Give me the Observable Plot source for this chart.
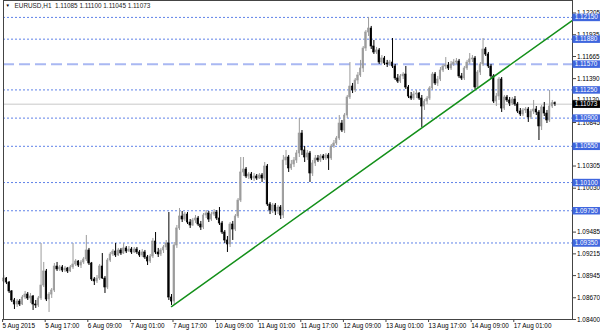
<!DOCTYPE html>
<html><head><meta charset="utf-8">
<script src="https://cdn.jsdelivr.net/npm/d3@7"></script>
<script src="https://cdn.jsdelivr.net/npm/@observablehq/plot@0.6"></script>
<style>
html,body{margin:0;padding:0;background:#fff;}
#chart svg{display:block;}
</style></head><body><div id="chart"></div>
<script>
// EURUSD H1 bars, bar 0 = 5 Aug 2015 01:00
const opens = [
1.08872,1.08909,1.08859,1.08748,1.08636,1.08586,1.08623,1.08586,1.08673,1.08710,
1.08661,1.08686,1.08586,1.08574,1.08661,1.08822,1.08996,1.08648,1.08710,1.08760,
1.09058,1.09021,1.09046,1.09008,1.09033,1.08996,1.09046,1.09083,1.09120,1.09070,
1.09108,1.09145,1.09257,1.09095,1.08897,1.08872,1.08909,1.09058,1.08909,1.08797,
1.09132,1.09207,1.09244,1.09195,1.09257,1.09219,1.09282,1.09244,1.09269,1.09232,
1.09269,1.09232,1.09195,1.09232,1.09170,1.09120,1.09182,1.09368,1.09232,1.09207,
1.09257,1.09294,1.09344,1.08673,1.08623,1.09319,1.09530,1.09679,1.09641,1.09703,
1.09604,1.09567,1.09629,1.09654,1.09579,1.09542,1.09691,1.09716,1.09641,1.09703,
1.09728,1.09654,1.09592,1.09480,1.09381,1.09331,1.09579,1.09517,1.09679,1.09877,
1.10225,1.10262,1.10175,1.10200,1.10150,1.10175,1.10150,1.10188,1.10150,1.10299,
1.09828,1.09753,1.09815,1.09741,1.09790,1.09691,1.10374,1.10411,1.10275,1.10324,
1.10374,1.10461,1.10709,1.10498,1.10411,1.10461,1.10212,1.10337,1.10399,1.10374,
1.10424,1.10399,1.10436,1.10399,1.10548,1.10585,1.10647,1.10833,1.10746,1.10932,
1.11156,1.11292,1.11243,1.11367,1.11429,1.11516,1.11764,1.11963,1.12012,1.11789,
1.11715,1.11740,1.11590,1.11640,1.11578,1.11566,1.11590,1.11541,1.11392,1.11354,
1.11417,1.11441,1.11280,1.11168,1.11143,1.11193,1.11205,1.11143,1.11044,1.11106,
1.11143,1.11268,1.11441,1.11330,1.11379,1.11491,1.11541,1.11553,1.11516,1.11566,
1.11590,1.11603,1.11417,1.11392,1.11516,1.11590,1.11628,1.11640,1.11280,1.11466,
1.11566,1.11752,1.11690,1.11541,1.11417,1.11106,1.11168,1.11379,1.11019,1.11156,
1.11119,1.11081,1.11131,1.11069,1.10982,1.10945,1.10995,1.11007,1.10908,1.10982,
1.11007,1.10970,1.10796,1.11032,1.10957,1.10870,1.11044,1.11085];
const highs = [
1.08946,1.08921,1.08872,1.08760,1.08661,1.08648,1.08648,1.08698,1.08748,1.08735,
1.08723,1.08698,1.08636,1.08686,1.09344,1.09108,1.09021,1.08735,1.08785,1.09095,
1.09108,1.09070,1.09070,1.09058,1.09046,1.09070,1.09344,1.09145,1.09132,1.09132,
1.09170,1.09443,1.09282,1.09108,1.08921,1.08946,1.09083,1.09219,1.08934,1.09157,
1.09232,1.09269,1.09344,1.09282,1.09282,1.09344,1.09306,1.09306,1.09294,1.09294,
1.09294,1.09257,1.09269,1.09257,1.09195,1.09207,1.09406,1.09480,1.09282,1.09282,
1.09319,1.09381,1.09728,1.08710,1.09356,1.09567,1.09778,1.09741,1.09728,1.09728,
1.09641,1.09654,1.09691,1.09679,1.09617,1.09716,1.09753,1.09741,1.09728,1.09765,
1.09753,1.09790,1.09617,1.09505,1.09430,1.09604,1.09617,1.09703,1.09902,1.10411,
1.10411,1.10287,1.10225,1.10225,1.10212,1.10200,1.10212,1.10212,1.10349,1.10324,
1.09852,1.09840,1.09840,1.09815,1.09815,1.10436,1.10498,1.10436,1.10374,1.10411,
1.10498,1.10895,1.10746,1.10548,1.10498,1.10486,1.10374,1.10436,1.10436,1.10448,
1.10448,1.10461,1.10461,1.10572,1.10622,1.10672,1.10932,1.10870,1.10957,1.11181,
1.11590,1.11330,1.11392,1.11466,1.11616,1.11789,1.11988,1.12149,1.12038,1.11864,
1.11777,1.11764,1.11677,1.11665,1.11616,1.11616,1.11888,1.11566,1.11441,1.11441,
1.11466,1.11541,1.11305,1.11218,1.11230,1.11243,1.11218,1.11181,1.11131,1.11168,
1.11292,1.11466,1.11466,1.11417,1.11528,1.11566,1.11652,1.11590,1.11603,1.11628,
1.11640,1.11628,1.11454,1.11541,1.11616,1.11702,1.11677,1.11665,1.11491,1.11590,
1.11888,1.11777,1.11715,1.11566,1.11441,1.11205,1.11404,1.11404,1.11181,1.11181,
1.11156,1.11156,1.11168,1.11094,1.11019,1.11019,1.11032,1.11032,1.11007,1.11119,
1.11044,1.10995,1.11057,1.11094,1.10995,1.11243,1.11119,1.11100];
const lows = [
1.08847,1.08834,1.08723,1.08611,1.08524,1.08549,1.08561,1.08574,1.08648,1.08636,
1.08599,1.08512,1.08537,1.08549,1.08636,1.08797,1.08623,1.08487,1.08661,1.08735,
1.08996,1.08996,1.08983,1.08983,1.08971,1.08983,1.09021,1.09058,1.09046,1.09033,
1.09083,1.09120,1.09070,1.08872,1.08822,1.08847,1.08884,1.08897,1.08723,1.08772,
1.09108,1.09182,1.09170,1.09182,1.09195,1.09207,1.09219,1.09232,1.09207,1.09219,
1.09207,1.09170,1.09170,1.09145,1.09070,1.09095,1.09157,1.09207,1.09170,1.09182,
1.09219,1.09257,1.08636,1.08574,1.08586,1.09282,1.09505,1.09604,1.09617,1.09579,
1.09530,1.09555,1.09592,1.09555,1.09505,1.09517,1.09654,1.09604,1.09617,1.09679,
1.09629,1.09567,1.09455,1.09344,1.09232,1.09294,1.09381,1.09492,1.09654,1.09852,
1.10175,1.10150,1.10138,1.10126,1.10113,1.10126,1.10138,1.10101,1.10126,1.09803,
1.09703,1.09716,1.09691,1.09703,1.09641,1.09654,1.10312,1.10225,1.10250,1.10287,
1.10337,1.10411,1.10436,1.10349,1.10374,1.10101,1.10175,1.10299,1.10349,1.10349,
1.10374,1.10374,1.10250,1.10374,1.10523,1.10560,1.10622,1.10721,1.10709,1.10895,
1.11131,1.11205,1.11218,1.11317,1.11404,1.11466,1.11727,1.11913,1.11752,1.11690,
1.11690,1.11566,1.11566,1.11553,1.11528,1.11541,1.11516,1.11367,1.11330,1.11330,
1.11379,1.11255,1.11143,1.11119,1.11119,1.11143,1.11119,1.10784,1.10995,1.11069,
1.11119,1.11243,1.11305,1.11292,1.11354,1.11466,1.11503,1.11491,1.11491,1.11541,
1.11566,1.11392,1.11367,1.11367,1.11491,1.11566,1.11590,1.11255,1.11255,1.11429,
1.11541,1.11665,1.11516,1.11392,1.11081,1.11044,1.11119,1.10970,1.10995,1.11094,
1.11044,1.11057,1.11044,1.10957,1.10920,1.10920,1.10957,1.10846,1.10883,1.10945,
1.10932,1.10622,1.10746,1.10920,1.10833,1.10846,1.11019,1.11045];
const closes = [
1.08909,1.08859,1.08748,1.08636,1.08586,1.08623,1.08586,1.08673,1.08710,1.08661,
1.08686,1.08586,1.08574,1.08661,1.08822,1.08996,1.08648,1.08710,1.08760,1.09058,
1.09021,1.09046,1.09008,1.09033,1.08996,1.09046,1.09083,1.09120,1.09070,1.09108,
1.09145,1.09257,1.09095,1.08897,1.08872,1.08909,1.09058,1.08909,1.08797,1.09132,
1.09207,1.09244,1.09195,1.09257,1.09219,1.09282,1.09244,1.09269,1.09232,1.09269,
1.09232,1.09195,1.09232,1.09170,1.09120,1.09182,1.09368,1.09232,1.09207,1.09257,
1.09294,1.09344,1.08673,1.08623,1.09319,1.09530,1.09679,1.09641,1.09703,1.09604,
1.09567,1.09629,1.09654,1.09579,1.09542,1.09691,1.09716,1.09641,1.09703,1.09728,
1.09654,1.09592,1.09480,1.09381,1.09331,1.09579,1.09517,1.09679,1.09877,1.10225,
1.10262,1.10175,1.10200,1.10150,1.10175,1.10150,1.10188,1.10150,1.10299,1.09828,
1.09753,1.09815,1.09741,1.09790,1.09691,1.10374,1.10411,1.10275,1.10324,1.10374,
1.10461,1.10709,1.10498,1.10411,1.10461,1.10212,1.10337,1.10399,1.10374,1.10424,
1.10399,1.10436,1.10399,1.10548,1.10585,1.10647,1.10833,1.10746,1.10932,1.11156,
1.11292,1.11243,1.11367,1.11429,1.11516,1.11764,1.11963,1.12012,1.11789,1.11715,
1.11740,1.11590,1.11640,1.11578,1.11566,1.11590,1.11541,1.11392,1.11354,1.11417,
1.11441,1.11280,1.11168,1.11143,1.11193,1.11205,1.11143,1.11044,1.11106,1.11143,
1.11268,1.11441,1.11330,1.11379,1.11491,1.11541,1.11553,1.11516,1.11566,1.11590,
1.11603,1.11417,1.11392,1.11516,1.11590,1.11628,1.11640,1.11280,1.11466,1.11566,
1.11752,1.11690,1.11541,1.11417,1.11106,1.11168,1.11379,1.11019,1.11156,1.11119,
1.11081,1.11131,1.11069,1.10982,1.10945,1.10995,1.11007,1.10908,1.10982,1.11007,
1.10970,1.10796,1.11032,1.10957,1.10870,1.11044,1.11085,1.11073];

const timeTickBars = [0,16,32,48,64,80,96,112,128,144,160,176,192];
const timeTickLabels = ["5 Aug 2015","5 Aug 17:00","6 Aug 09:00","7 Aug 01:00","7 Aug 17:00","10 Aug 09:00","11 Aug 01:00","11 Aug 17:00","12 Aug 09:00","13 Aug 01:00","13 Aug 17:00","14 Aug 09:00","17 Aug 01:00"];
const priceTicks = [1.12205,1.11935,1.11665,1.11390,1.11120,1.10845,1.10575,1.10305,1.10030,1.09760,1.09485,1.09215,1.08945,1.08670,1.08400];
// tick labels fully covered by a level box in the reference
const coveredTicks = [1.10575, 1.09760];
const dottedLevels = [1.12150,1.11880,1.11250,1.10900,1.10550,1.10100,1.09750,1.09350];
const dashedLevels = [1.11570];
const lastPrice = [1.11073];
const trendBars = [63, 207];
const trendPrices = [1.08561, 1.11957];
const titleText = "EURUSD,H1  1.11085 1.11100 1.11045 1.11073";

const xDomain = [-0.113, 213.6];
const yDomain = [1.0840, 1.1236];

const bars = opens.map((o, i) => ({i, open: o, high: highs[i], low: lows[i], close: closes[i], up: closes[i] > o}));
const slope = (trendPrices[1] - trendPrices[0]) / (trendBars[1] - trendBars[0]);
const trend = [
  {x: trendBars[0], y: trendPrices[0]},
  {x: xDomain[1], y: trendPrices[0] + slope * (xDomain[1] - trendBars[0])}
];
const boxLevels = dottedLevels.concat(dashedLevels);
const fmt = d3.format(".5f");
const UP = "#9c9c9c", DOWN = "#000000", BLUE = "#3f66de";
const bx1 = xDomain[1] + 0.15, bx2 = xDomain[1] + 10.5;

const chart = Plot.plot({
  width: 600, height: 333,
  marginLeft: 3, marginRight: 28, marginTop: 0, marginBottom: 14,
  style: {fontFamily: "Liberation Sans, Arial, sans-serif", fontSize: "6.4px", background: "#fff", color: "#000"},
  x: {domain: xDomain, axis: null},
  y: {domain: yDomain, axis: null},
  marks: [
    Plot.ruleY(dottedLevels, {stroke: "#5f82e8", strokeDasharray: "2,2", strokeWidth: 1}),
    Plot.ruleY(dashedLevels, {stroke: "#a9b8f2", strokeDasharray: "11,5", strokeWidth: 2}),
    Plot.ruleY(lastPrice, {stroke: "#c8c8c8", strokeWidth: 1}),
    Plot.ruleX(bars, {x: "i", y1: "low", y2: "high", stroke: d => d.up ? UP : DOWN, strokeWidth: 1}),
    Plot.rect(bars, {x1: d => d.i - 0.27, x2: d => d.i + 0.27, y1: "open", y2: "close",
      fill: d => d.up ? UP : DOWN, stroke: d => d.up ? UP : DOWN, strokeWidth: 0.6}),
    Plot.line(trend, {x: "x", y: "y", stroke: "#14901a", strokeWidth: 1.5}),
    Plot.frame({stroke: "#444"}),
    Plot.axisY(priceTicks, {anchor: "right", tickSize: 3, tickPadding: 1.5,
      tickFormat: d => coveredTicks.includes(d) ? "" : fmt(d), fontSize: 6.4, stroke: "#444"}),
    Plot.axisX(timeTickBars, {anchor: "bottom", tickSize: 3, tickPadding: 0.5, dx: -1.2, textAnchor: "start",
      tickFormat: d => timeTickLabels[timeTickBars.indexOf(d)], fontSize: 6.4, stroke: "#444"}),
    Plot.ruleY(boxLevels, {x1: bx1, x2: bx2, stroke: BLUE, strokeWidth: 7.5}),
    Plot.text(boxLevels, {y: d => d, x: bx1, text: fmt, fill: "#fff", textAnchor: "start", dx: 1.8, fontSize: 6.4}),
    Plot.ruleY(lastPrice, {x1: bx1, x2: bx2, stroke: "#000", strokeWidth: 7.5}),
    Plot.text(lastPrice, {y: d => d, x: bx1, text: fmt, fill: "#fff", textAnchor: "start", dx: 1.8, fontSize: 6.4}),
    Plot.text(["\u25BC"], {frameAnchor: "top-left", dx: 2, dy: 3.5, fontSize: 4.5, lineAnchor: "top", textAnchor: "start", fill: "#000"}),
    Plot.text([titleText], {frameAnchor: "top-left", dx: 11, dy: 2.8, fontSize: 6.4, lineAnchor: "top", textAnchor: "start", fill: "#222"})
  ]
});
document.getElementById("chart").appendChild(chart);
</script>
</body></html>
